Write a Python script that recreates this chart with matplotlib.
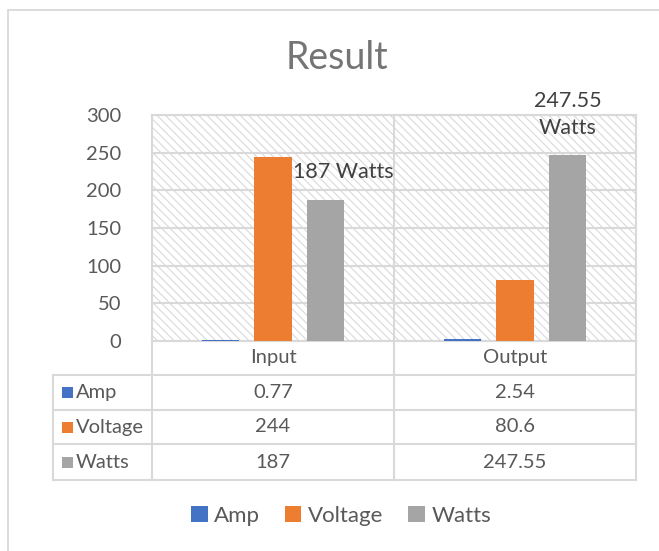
import numpy as np
import matplotlib.pyplot as plt
from matplotlib.patches import Rectangle, Patch
from matplotlib.lines import Line2D

plt.rcParams['font.family'] = ['Lato', 'DejaVu Sans']
plt.rcParams['hatch.linewidth'] = 0.8
plt.rcParams['hatch.color'] = '#dcdcdc'

# データ
categories = ['Input', 'Output']
series = ['Amp', 'Voltage', 'Watts']
amp = [0.77, 2.54]
voltage = [244, 80.6]
watts = [187, 247.55]
table_text = {'Amp': ['0.77', '2.54'], 'Voltage': ['244', '80.6'], 'Watts': ['187', '247.55']}
colors = ['#4472c4', '#ed7d31', '#a5a5a5']
label_texts = ['187 Watts', '247.55\nWatts']

W, H = 659, 551
grid_c = '#d9d9d9'
txt_c = '#595959'

fig = plt.figure(figsize=(W / 100, H / 100), dpi=100)

# figure border
fig.patches.append(Rectangle((8 / W, -0.1), 1.1, 1 - 10 / H + 0.1, transform=fig.transFigure,
                             fill=False, edgecolor=grid_c, linewidth=1.3))

# プロット領域
L, R, T, B = 152, 636, 115, 341
ax = fig.add_axes([L / W, 1 - B / H, (R - L) / W, (B - T) / H])
ax.add_patch(Rectangle((0, 0), 1, 1, transform=ax.transAxes, facecolor='white',
                       hatch='\\\\\\\\', edgecolor=grid_c, linewidth=0, zorder=0))

x = np.arange(len(categories))
width = 0.153
offs = [-0.217, 0.0, 0.217]
vals = [amp, voltage, watts]
for i, s in enumerate(series):
    ax.bar(x + offs[i], vals[i], width, color=colors[i], zorder=3, label=s)

ax.set_xlim(-0.5, 1.5)
ax.set_ylim(0, 300)
ax.set_yticks(np.arange(0, 301, 50))
ax.set_xticks([])
ax.grid(axis='y', color=grid_c, linewidth=1.5, zorder=1)
ax.set_axisbelow(True)
ax.axvline(0.5, color=grid_c, linewidth=1.5, zorder=1)
for sp in ax.spines.values():
    sp.set_color(grid_c)
    sp.set_linewidth(1.5)
ax.tick_params(axis='y', length=0, labelsize=14.5, labelcolor=txt_c, pad=22)

# データラベル
ax.annotate(label_texts[0], xy=(x[0] + offs[2], watts[0]), xytext=(12.5, 20),
            textcoords='offset points', ha='center', va='center', fontsize=15.5, color='#404040')
ax.annotate(label_texts[1], xy=(x[1] + offs[2], watts[1]), xytext=(0, 29),
            textcoords='offset points', ha='center', va='center', fontsize=15.5, color='#404040',
            linespacing=1.45)

# タイトル
fig.text(337 / W, 1 - 58 / H, 'Result', ha='center', va='center', fontsize=27, color='#757575')

# データテーブル
tax = fig.add_axes([0, 0, 1, 1])
tax.set_xlim(0, W)
tax.set_ylim(H, 0)
tax.axis('off')
rows = [341, 375, 410, 444, 480]
cols = [53, 152, 394, 636]
for yy in rows[1:]:
    tax.add_line(Line2D([cols[0], cols[-1]], [yy, yy], color=grid_c, linewidth=1.5))
tax.add_line(Line2D([cols[0], cols[0]], [rows[1], rows[-1]], color=grid_c, linewidth=1.5))
for xx in cols[1:]:
    tax.add_line(Line2D([xx, xx], [rows[0], rows[-1]], color=grid_c, linewidth=1.5))

for j, c in enumerate(categories):
    tax.text((cols[j + 1] + cols[j + 2]) / 2, (rows[0] + rows[1]) / 2, c,
             ha='center', va='center', fontsize=14.5, color=txt_c)
for i, s in enumerate(series):
    yc = (rows[i + 1] + rows[i + 2]) / 2
    tax.add_patch(Rectangle((62, yc - 5.5), 11, 11, facecolor=colors[i], edgecolor='none'))
    tax.text(76, yc, s, ha='left', va='center', fontsize=14.5, color=txt_c)
    for j in range(len(categories)):
        tax.text((cols[j + 1] + cols[j + 2]) / 2, yc, table_text[s][j],
                 ha='center', va='center', fontsize=14.5, color=txt_c)

# 凡例
handles = [Patch(facecolor=colors[i], label=s) for i, s in enumerate(series)]
fig.legend(handles=handles, loc='center', bbox_to_anchor=(341 / W, 1 - 516 / H), ncol=3,
           frameon=False, fontsize=16, handlelength=0.75, handleheight=0.75,
           handletextpad=0.3, columnspacing=1.1, labelcolor=txt_c)

plt.savefig('out.png', dpi=100)
